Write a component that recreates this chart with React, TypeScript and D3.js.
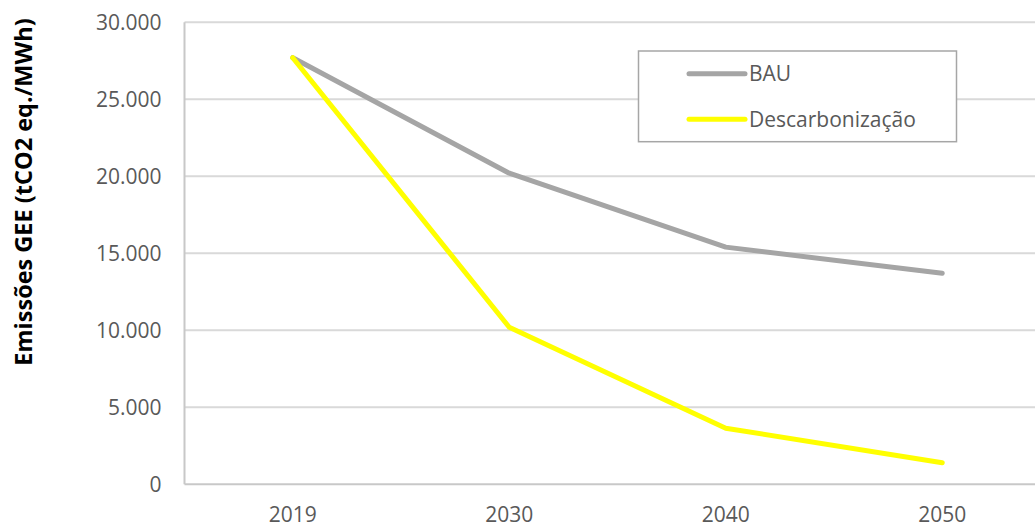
import React from "react";
import * as d3 from "d3";

const years = ["2019", "2030", "2040", "2050"];
const bau = [27700, 20200, 15400, 13700];
const descarbonizacao = [27700, 10200, 3640, 1400];
const yTicks = [0, 5000, 10000, 15000, 20000, 25000, 30000];
const seriesNames = ["BAU", "Descarbonização"];
const seriesColors = ["#a5a5a5", "#ffff00"];
const yTitle = "Emissões GEE (tCO2 eq./MWh)";

const W = 1035;
const H = 525;
const plotLeft = 184.5;
const plotRight = 184.5 + 866;
const plotTop = 22.3;
const plotBottom = 484.3;

const locale = d3.formatLocale({ decimal: ",", thousands: ".", grouping: [3], currency: ["", ""] });
const fmt = locale.format(",.0f");

export default function App() {
  const x = d3.scaleBand<string>().domain(years).range([plotLeft, plotRight]);
  const y = d3.scaleLinear().domain([0, 30000]).range([plotBottom, plotTop]);
  const cx = (c: string) => (x(c) as number) + x.bandwidth() / 2;
  const line = d3
    .line<number>()
    .x((_, i) => cx(years[i]))
    .y((v) => y(v));
  const series = [bau, descarbonizacao];
  const font = "'Open Sans', sans-serif";
  const legendX = 638.5;
  const legendY = 51;
  return (
    <svg
      width={W}
      height={H}
      style={{ position: "absolute", left: 0, top: 0, background: "#fff" }}
      fontFamily={font}
    >
      <rect x={0} y={0} width={W} height={H} fill="#fff" />
      {yTicks.map((t) => (
        <line
          key={t}
          x1={plotLeft}
          x2={plotRight}
          y1={y(t)}
          y2={y(t)}
          stroke={t === 0 ? "#c8c8c8" : "#d9d9d9"}
          strokeWidth={2}
        />
      ))}
      <line x1={plotLeft} x2={plotLeft} y1={plotTop} y2={plotBottom} stroke="#c8c8c8" strokeWidth={2} />
      {yTicks.map((t) => (
        <text
          key={"l" + t}
          x={161.5}
          y={y(t)}
          dy="0.36em"
          textAnchor="end"
          fontSize={21}
          fill="#595959"
        >
          {fmt(t)}
        </text>
      ))}
      {years.map((c) => (
        <text key={c} x={cx(c)} y={521.5} textAnchor="middle" fontSize={21} fill="#595959">
          {c}
        </text>
      ))}
      <text
        transform={`translate(32,192) rotate(-90)`}
        textAnchor="middle"
        fontSize={23.5}
        fontWeight="bold"
        fill="#000"
      >
        {yTitle}
      </text>
      {series.map((s, i) => (
        <path
          key={i}
          d={line(s) as string}
          fill="none"
          stroke={seriesColors[i]}
          strokeWidth={5}
          strokeLinecap="round"
          strokeLinejoin="round"
        />
      ))}
      <rect x={legendX} y={legendY} width={318} height={90.7} fill="#fff" stroke="#a6a6a6" strokeWidth={1.5} />
      {seriesNames.map((n, i) => (
        <g key={n}>
          <line
            x1={689}
            x2={745}
            y1={73.7 + i * 45.6}
            y2={73.7 + i * 45.6}
            stroke={seriesColors[i]}
            strokeWidth={5}
            strokeLinecap="round"
          />
          <text x={749} y={73.7 + i * 45.6} dy="0.36em" fontSize={21} fill="#595959">
            {n}
          </text>
        </g>
      ))}
    </svg>
  );
}
